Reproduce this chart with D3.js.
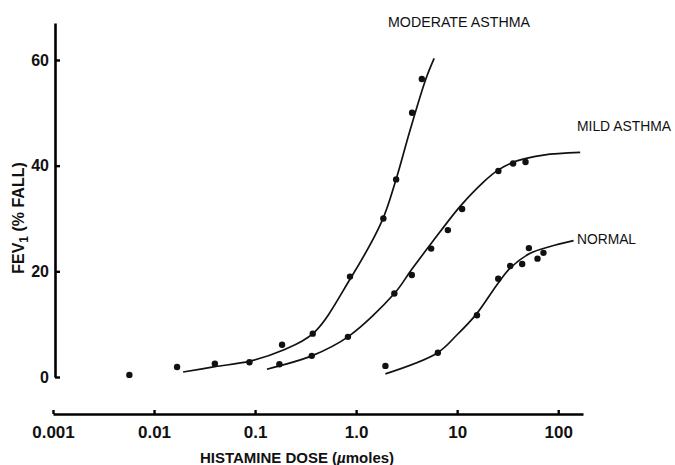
<!DOCTYPE html>
<html>
<head>
<meta charset="utf-8">
<script src="https://cdn.jsdelivr.net/npm/d3@7"></script>
<style>
  body { margin: 0; background: #fff; }
  svg { display: block; font-family: "Liberation Sans", Arial, sans-serif; }
</style>
</head>
<body>
<div id="chart"></div>
<script>
// values
var doseTicks = [0.001, 0.01, 0.1, 1, 10, 100];
var doseTickLabels = ["0.001", "0.01", "0.1", "1.0", "10", "100"];
var fallTicks = [0, 20, 40, 60];

var modDose = [0.0057, 0.0169, 0.040, 0.088, 0.185, 0.372, 0.87, 1.86, 2.49, 3.58, 4.47];
var modFall = [0.4, 1.9, 2.5, 2.8, 6.1, 8.2, 19.0, 30.0, 37.4, 50.0, 56.4];
var mildDose = [0.174, 0.364, 0.83, 2.39, 3.56, 5.53, 8.09, 11.2, 25.6, 35.8, 47.5];
var mildFall = [2.4, 4.0, 7.6, 15.8, 19.3, 24.3, 27.8, 31.8, 39.0, 40.4, 40.7];
var normDose = [1.95, 6.44, 15.7, 25.5, 33.5, 44.0, 51.3, 62.4, 71.5];
var normFall = [2.1, 4.6, 11.7, 18.6, 21.0, 21.4, 24.4, 22.4, 23.5];

// fitted curves, traced
var modCurveDose = [0.0194, 0.04, 0.089, 0.185, 0.378, 0.87, 1.8, 2.45, 3.43, 4.9, 5.92];
var modCurveFall = [0.95, 1.95, 3.0, 5.0, 8.3, 18.5, 29.5, 37, 46.8, 56.4, 60.3];
var mildCurveDose = [0.131, 0.174, 0.364, 0.83, 2.39, 3.5, 5.5, 10.7, 18.2, 25.6, 39, 71.5, 165];
var mildCurveFall = [1.46, 2.1, 4.0, 7.6, 15.8, 20.2, 25.2, 32.3, 36.9, 39.2, 40.9, 42.0, 42.5];
var normCurveDose = [1.95, 6.3, 9.93, 15.5, 25.3, 33.5, 52.8, 83.4, 142];
var normCurveFall = [0.6, 4.5, 7.95, 11.9, 17.7, 20.6, 23.4, 24.7, 25.8];

var groupLabels = ["MODERATE ASTHMA", "MILD ASTHMA", "NORMAL"];

var width = 675, height = 465;

var svg = d3.select("#chart").append("svg")
    .attr("width", width)
    .attr("height", height);

var x = d3.scaleLog().domain([0.001, 176]).range([53, 583]);
var y = d3.scaleLinear().domain([0, 67]).range([377, 23]);

// y axis
var yAxis = svg.append("g")
    .attr("transform", "translate(55,0)")
    .call(d3.axisLeft(y).tickValues(fallTicks).tickSizeInner(-5).tickSizeOuter(0).tickPadding(6));
yAxis.select(".domain").attr("stroke-width", 2.6);
yAxis.selectAll(".tick line").attr("stroke-width", 2.4);
yAxis.selectAll(".tick text")
    .attr("font-size", 16)
    .attr("font-weight", "bold")
    .attr("font-family", "Liberation Sans, Arial, sans-serif")
    .attr("fill", "#111");

// x axis
var xAxis = svg.append("g")
    .attr("transform", "translate(0,414)")
    .call(d3.axisBottom(x).tickValues(doseTicks)
      .tickFormat(function(d, i) { return doseTickLabels[i]; })
      .tickSizeInner(-4).tickSizeOuter(0).tickPadding(12));
xAxis.select(".domain").attr("stroke-width", 2.6);
xAxis.selectAll(".tick line").attr("stroke-width", 2.4);
xAxis.selectAll(".tick text")
    .attr("font-size", 17)
    .attr("font-weight", "bold")
    .attr("font-family", "Liberation Sans, Arial, sans-serif")
    .attr("fill", "#111");

// axis titles
var xt = svg.append("text")
    .attr("x", 297).attr("y", 463)
    .attr("text-anchor", "middle")
    .attr("font-size", 15)
    .attr("font-weight", "bold")
    .attr("fill", "#111");
xt.append("tspan").text("HISTAMINE DOSE (");
xt.append("tspan").attr("font-style", "italic").text("\u00b5");
xt.append("tspan").text("moles)");

var yt = svg.append("text")
    .attr("transform", "translate(24,218) rotate(-90)")
    .attr("text-anchor", "middle")
    .attr("font-size", 16)
    .attr("font-weight", "bold")
    .attr("fill", "#111");
yt.append("tspan").text("FEV");
yt.append("tspan").attr("font-size", 12).attr("dy", 4).text("1");
yt.append("tspan").attr("dy", -4).text(" (% FALL)");

// curves
var line = d3.line()
    .x(function(d) { return x(d[0]); })
    .y(function(d) { return y(d[1]); })
    .curve(d3.curveCatmullRom.alpha(0.5));

var curves = [
  d3.zip(modCurveDose, modCurveFall),
  d3.zip(mildCurveDose, mildCurveFall),
  d3.zip(normCurveDose, normCurveFall)
];

svg.append("g").selectAll("path")
    .data(curves)
  .enter().append("path")
    .attr("d", line)
    .attr("fill", "none")
    .attr("stroke", "#111")
    .attr("stroke-width", 1.7);

// dots
var points = d3.zip(modDose, modFall)
  .concat(d3.zip(mildDose, mildFall))
  .concat(d3.zip(normDose, normFall));

svg.append("g").selectAll("circle")
    .data(points)
  .enter().append("circle")
    .attr("cx", function(d) { return x(d[0]); })
    .attr("cy", function(d) { return y(d[1]); })
    .attr("r", 3.2)
    .attr("fill", "#111");

// curve labels
var labelPos = [[388, 27, 142], [577, 131, 94], [577, 244, 59]];
svg.append("g").selectAll("text")
    .data(groupLabels)
  .enter().append("text")
    .attr("x", function(d, i) { return labelPos[i][0]; })
    .attr("y", function(d, i) { return labelPos[i][1]; })
    .attr("textLength", function(d, i) { return labelPos[i][2]; })
    .attr("lengthAdjust", "spacingAndGlyphs")
    .attr("font-size", 14)
    .attr("fill", "#111")
    .text(function(d) { return d; });
</script>
</body>
</html>
